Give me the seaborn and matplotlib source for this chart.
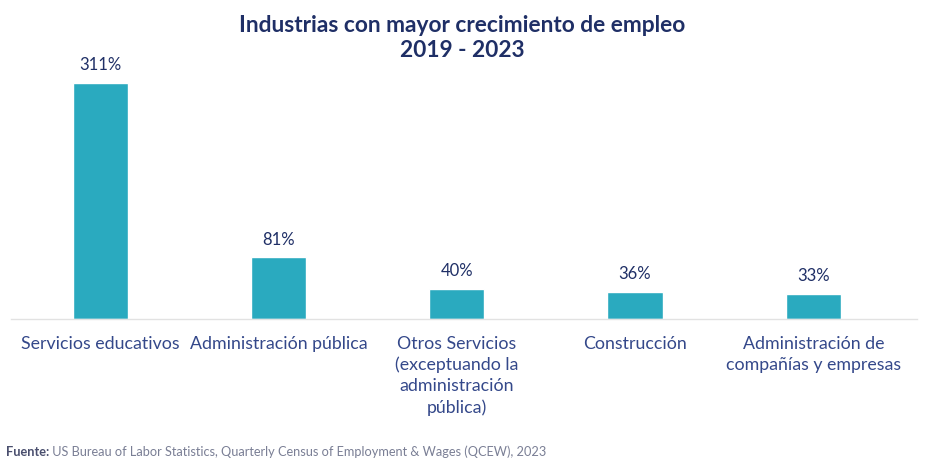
import matplotlib
matplotlib.use("Agg")
import matplotlib.pyplot as plt
import seaborn as sns
import pandas as pd

# Employment growth by industry, 2019-2023 (%)
industries = [
    "Servicios educativos",
    "Administración pública",
    "Otros Servicios\n(exceptuando la\nadministración\npública)",
    "Construcción",
    "Administración de\ncompañías y empresas",
]
growth = [311, 81, 40, 36, 33]
value_labels = ["311%", "81%", "40%", "36%", "33%"]

title = "Industrias con mayor crecimiento de empleo\n2019 - 2023"
source_label = "Fuente:"
source_text = " US Bureau of Labor Statistics, Quarterly Census of Employment & Wages (QCEW), 2023"

BAR = "#2aaabf"
NAVY = "#1f2f66"
TICK = "#34488a"

sns.set_theme(style="white")
plt.rcParams["font.family"] = ["Lato", "DejaVu Sans"]

df = pd.DataFrame({"industria": industries, "crecimiento": growth})

fig = plt.figure(figsize=(9.25, 4.63), dpi=100)
ax = fig.add_axes([0.012, 0.311, 0.979, 0.538])

sns.barplot(data=df, x="industria", y="crecimiento", color=BAR,
            width=0.31, saturation=1, ax=ax)

ax.set_xlim(-0.5, 4.58)
ax.set_ylim(0, 328)

for patch, lab in zip(ax.patches, value_labels):
    ax.annotate(lab, (patch.get_x() + patch.get_width() / 2, patch.get_height()),
                xytext=(0, 7), textcoords="offset points", ha="center", va="bottom",
                fontsize=12, color=NAVY)

ax.set_xlabel("")
ax.set_ylabel("")
ax.set_yticks([])
ax.tick_params(axis="x", length=0, pad=12, labelsize=12.8, labelcolor=TICK)
for t in ax.get_xticklabels():
    t.set_linespacing(1.38)
    t.set_va("top")

for side in ["top", "right", "left"]:
    ax.spines[side].set_visible(False)
ax.spines["bottom"].set_color("#e2e2e2")
ax.spines["bottom"].set_linewidth(1.0)

fig.text(0.5, 0.968, title, ha="center", va="top", fontsize=16.4, fontweight="bold",
         color=NAVY, linespacing=1.25)

t1 = fig.text(0.006, 0.024, source_label, ha="left", va="center", fontsize=9.2,
              fontweight="bold", color="#4a4f6e")
fig.canvas.draw()
bb = t1.get_window_extent()
x1 = bb.x1 / fig.bbox.width
fig.text(x1, 0.024, source_text, ha="left", va="center", fontsize=9.2, color="#7a7f95")

fig.savefig("out.png", dpi=100, facecolor="white")
